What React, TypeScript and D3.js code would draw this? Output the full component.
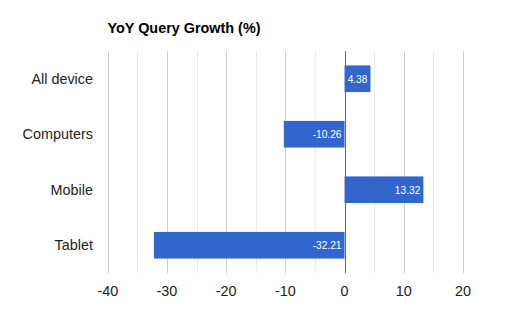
import React from "react";
import * as d3 from "d3";

const categories = ["All device", "Computers", "Mobile", "Tablet"];
const values = [4.38, -10.26, 13.32, -32.21];
const ticks = [-40, -30, -20, -10, 0, 10, 20];
const minorTicks = [-35, -25, -15, -5, 5, 15];
const title = "YoY Query Growth (%)";

export default function App() {
  const W = 512, H = 323;
  const x = d3.scaleLinear().domain([-40, 20]).range([107.8, 462.9]);
  const y = d3.scaleBand<string>().domain(categories).range([51, 273]).paddingInner(0.52).paddingOuter(0.26);
  const font = "Arial, 'Liberation Sans', sans-serif";
  return (
    <svg width={W} height={H} style={{ position: "absolute", left: 0, top: 0 }} fontFamily={font}>
      <rect width={W} height={H} fill="#fff" />
      <text x={107.5} y={33} fontSize={14.4} fontWeight="bold" fill="#000">{title}</text>
      {minorTicks.map((t) => (
        <line key={"m" + t} x1={Math.round(x(t)) + 0.5} x2={Math.round(x(t)) + 0.5} y1={51} y2={273} stroke="#ebebeb" />
      ))}
      {ticks.filter((t) => t !== 0).map((t) => (
        <line key={"g" + t} x1={Math.round(x(t)) + 0.5} x2={Math.round(x(t)) + 0.5} y1={51} y2={273} stroke="#cccccc" />
      ))}
      {categories.map((c, i) => {
        const v = values[i];
        const x0 = x(Math.min(0, v));
        const x1 = x(Math.max(0, v));
        const yy = y(c)!;
        return (
          <g key={c}>
            <rect x={x0} y={yy} width={x1 - x0} height={y.bandwidth()} fill="#3366cc" />
            <text x={x1 - 3} y={yy + y.bandwidth() / 2 + 4} fontSize={10.2} fill="#ffffff" textAnchor="end">{v.toFixed(2)}</text>
            <text x={93} y={yy + y.bandwidth() / 2 + 5} fontSize={14.4} fill="#222" textAnchor="end">{c}</text>
          </g>
        );
      })}
      <line x1={Math.round(x(0)) + 0.5} x2={Math.round(x(0)) + 0.5} y1={51} y2={273} stroke="#666" />
      {ticks.map((t) => (
        <text key={"t" + t} x={x(t)} y={295.5} fontSize={14.4} fill="#222" textAnchor="middle">{t}</text>
      ))}
    </svg>
  );
}
